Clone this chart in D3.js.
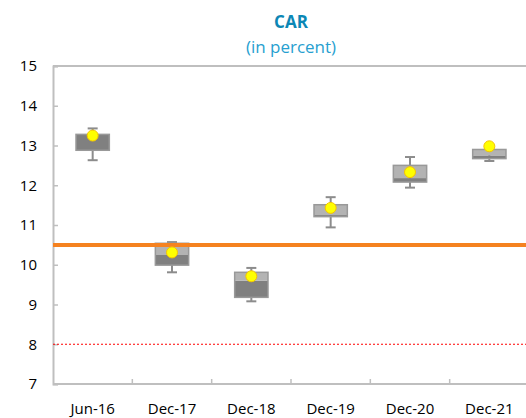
<!DOCTYPE html>
<html>
<head>
  <meta charset="utf-8">
  <script src="https://d3js.org/d3.v7.min.js"></script>
  <style>
    body { margin: 0; background: #fff; }
    text { font-family: "Open Sans", "Noto Sans", sans-serif; }
  </style>
</head>
<body>
  <svg id="chart" width="526" height="418"></svg>

  <script>
    // data
    const periods = ["Jun-16", "Dec-17", "Dec-18", "Dec-19", "Dec-20", "Dec-21"];
    const whiskerLow = [12.63, 9.81, 9.08, 10.94, 11.94, 12.61];
    const q1 = [12.88, 9.99, 9.18, 11.21, 12.08, 12.67];
    const median = [13.28, 10.26, 9.60, 11.25, 12.18, 12.75];
    const q3 = [13.28, 10.54, 9.81, 11.51, 12.50, 12.90];
    const whiskerHigh = [13.43, 10.57, 9.92, 11.70, 12.71, 12.92];
    const average = [13.25, 10.31, 9.71, 11.43, 12.33, 12.98];
    const yTicks = [7, 8, 9, 10, 11, 12, 13, 14, 15];
    const minimumCAR = 10.5;
    const regulatoryCAR = 8;

    const svg = d3.select("svg#chart");
    const margin = { top: 66, left: 53, right: -3, bottom: 34 };
    const width = 526 - margin.left - margin.right;
    const height = 418 - margin.top - margin.bottom;

    const chart = svg.append("g")
      .attr("transform", `translate(${margin.left},${margin.top})`);

    const xScale = d3.scaleBand().domain(periods).range([0, width]);
    const yScale = d3.scaleLinear().domain([7, 15]).range([height, 0]);

    const axisColor = "#bfbfbf";

    // frame
    chart.append("line").attr("x1", 0).attr("x2", width).attr("y1", 0).attr("y2", 0)
      .attr("stroke", axisColor).attr("stroke-width", 2);

    // y axis
    const leftAxis = d3.axisLeft(yScale).tickValues(yTicks).tickSize(-5).tickPadding(16);
    const yAxis = chart.append("g").call(leftAxis);
    yAxis.select(".domain").attr("stroke", axisColor).attr("stroke-width", 2);
    yAxis.selectAll(".tick line").attr("stroke", axisColor).attr("stroke-width", 1.5);
    yAxis.selectAll(".tick text").attr("font-size", 15).attr("fill", "#000")
      .attr("font-family", "'Open Sans', sans-serif");

    // x axis with ticks between categories
    const xAxis = chart.append("g").attr("transform", `translate(0,${height})`);
    xAxis.append("line").attr("x1", 0).attr("x2", width)
      .attr("stroke", axisColor).attr("stroke-width", 2);
    xAxis.selectAll(".sep").data(periods.slice(1)).join("line")
      .attr("x1", d => xScale(d)).attr("x2", d => xScale(d))
      .attr("y1", 0).attr("y2", -5)
      .attr("stroke", axisColor).attr("stroke-width", 1.5);
    xAxis.selectAll(".lbl").data(periods).join("text")
      .attr("x", d => xScale(d) + xScale.bandwidth() / 2)
      .attr("y", 30)
      .attr("text-anchor", "middle")
      .attr("font-size", 15)
      .text(d => d);

    // reference lines
    chart.append("line")
      .attr("x1", 0).attr("x2", width)
      .attr("y1", yScale(regulatoryCAR)).attr("y2", yScale(regulatoryCAR))
      .attr("stroke", "#ff0000").attr("stroke-width", 1.2).attr("stroke-dasharray", "2,2");

    // boxes
    const boxW = xScale.bandwidth() * 0.42;
    const cx = i => xScale(periods[i]) + xScale.bandwidth() / 2;

    periods.forEach((p, i) => {
      const g = chart.append("g");
      // whiskers
      g.append("line").attr("x1", cx(i)).attr("x2", cx(i))
        .attr("y1", yScale(whiskerHigh[i])).attr("y2", yScale(whiskerLow[i]))
        .attr("stroke", "#8c8c8c").attr("stroke-width", 2);
      [whiskerHigh[i], whiskerLow[i]].forEach(v => {
        g.append("line").attr("x1", cx(i) - 5).attr("x2", cx(i) + 5)
          .attr("y1", yScale(v)).attr("y2", yScale(v))
          .attr("stroke", "#8c8c8c").attr("stroke-width", 2);
      });
      // lower box: q1 to median (dark)
      g.append("rect")
        .attr("x", cx(i) - boxW / 2).attr("width", boxW)
        .attr("y", yScale(median[i])).attr("height", yScale(q1[i]) - yScale(median[i]))
        .attr("fill", "#808080");
      // upper box: median to q3 (light)
      g.append("rect")
        .attr("x", cx(i) - boxW / 2).attr("width", boxW)
        .attr("y", yScale(q3[i])).attr("height", yScale(median[i]) - yScale(q3[i]))
        .attr("fill", "#b3b3b3");
      // outline
      g.append("rect")
        .attr("x", cx(i) - boxW / 2).attr("width", boxW)
        .attr("y", yScale(q3[i])).attr("height", yScale(q1[i]) - yScale(q3[i]))
        .attr("fill", "none").attr("stroke", "#999999").attr("stroke-width", 1.5);
    });

    chart.append("line")
      .attr("x1", 0).attr("x2", width)
      .attr("y1", yScale(minimumCAR)).attr("y2", yScale(minimumCAR))
      .attr("stroke", "#f58220").attr("stroke-width", 4);

    // averages
    chart.selectAll(".avg").data(average).join("circle")
      .attr("cx", (d, i) => cx(i))
      .attr("cy", d => yScale(d))
      .attr("r", 5.5)
      .attr("fill", "#ffff00")
      .attr("stroke", "#f5c400")
      .attr("stroke-width", 1);

    // titles
    const midX = margin.left + width / 2;
    svg.append("text").attr("x", midX).attr("y", 28)
      .attr("text-anchor", "middle").attr("font-size", 17).attr("font-weight", "bold")
      .attr("fill", "#0c87b5").text("CAR");
    svg.append("text").attr("x", midX).attr("y", 53)
      .attr("text-anchor", "middle").attr("font-size", 17)
      .attr("fill", "#279fd0").text("(in percent)");
  </script>
</body>
</html>
